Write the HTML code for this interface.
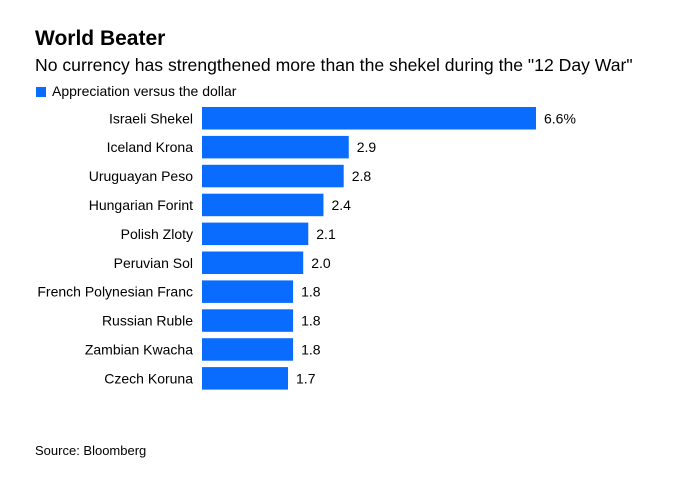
<!DOCTYPE html>
<html><head><style>
body{margin:0;background:#fff;width:696px;height:474px;overflow:hidden;font-family:"Liberation Sans",Arial,sans-serif;color:#000}
</style></head><body>
<svg width="696" height="474">
<text x="35" y="45" font-size="21" font-weight="bold">World Beater</text>
<text x="35" y="71" font-size="17.6">No currency has strengthened more than the shekel during the "12 Day War"</text>
<rect x="36" y="87" width="10" height="10" fill="#0a6cff"/>
<text x="52" y="96" font-size="14">Appreciation versus the dollar</text>
<g id="bars"></g>
<text x="35" y="455" font-size="13">Source: Bloomberg</text>
</svg>
<script>
const categories=["Israeli Shekel","Iceland Krona","Uruguayan Peso","Hungarian Forint","Polish Zloty","Peruvian Sol","French Polynesian Franc","Russian Ruble","Zambian Kwacha","Czech Koruna"];
const values=[6.6,2.9,2.8,2.4,2.1,2.0,1.8,1.8,1.8,1.7];
const valueLabels=["6.6%","2.9","2.8","2.4","2.1","2.0","1.8","1.8","1.8","1.7"];
const x0=202, pxPerUnit=334/6.6, barTop=107, step=28.9, bh=22.5;
const xs=v=>x0+v*pxPerUnit;
const ys=i=>barTop+i*step;
const g=document.getElementById('bars');
const NS='http://www.w3.org/2000/svg';
categories.forEach((c,i)=>{
  const r=document.createElementNS(NS,'rect');
  r.setAttribute('x',x0);r.setAttribute('y',ys(i));
  r.setAttribute('width',xs(values[i])-x0);r.setAttribute('height',bh);
  r.setAttribute('fill','#0a6cff');
  
  
  g.appendChild(r);
  const t=document.createElementNS(NS,'text');
  t.setAttribute('x',193);t.setAttribute('y',ys(i)+bh/2+5);
  t.setAttribute('text-anchor','end');t.setAttribute('font-size','14');
  t.textContent=c;
  
  
  g.appendChild(t);
  const v=document.createElementNS(NS,'text');
  v.setAttribute('x',xs(values[i])+8);v.setAttribute('y',ys(i)+bh/2+5);
  v.setAttribute('font-size','14');
  v.textContent=valueLabels[i];
  
  
  g.appendChild(v);
});
</script>
</body></html>
